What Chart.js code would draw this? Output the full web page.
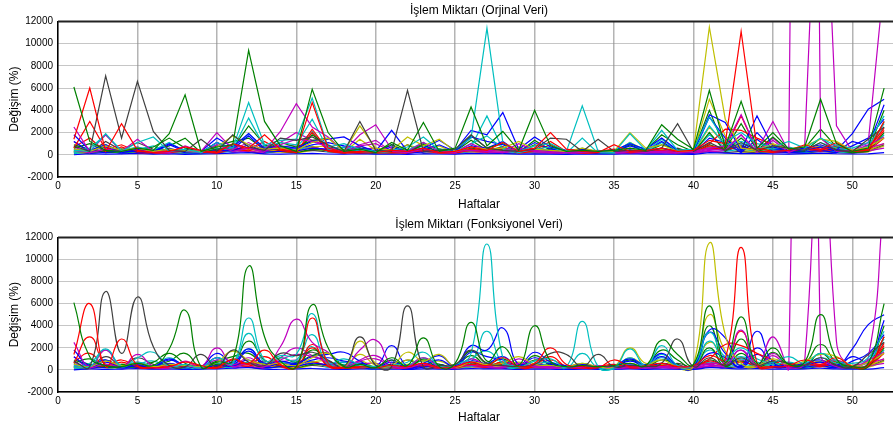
<!DOCTYPE html>
<html>
<head>
    <meta charset="utf-8">
    <title>İşlem Miktarı</title>
    <script src="https://cdn.jsdelivr.net/npm/chart.js"></script>
    <style>
        body {
            margin: 0;
            background: #fff;
            overflow: hidden;
            width: 893px;
            height: 425px;
        }
        .panel {
            width: 902px;
        }
    </style>
</head>
<body>
    <div class="panel"><canvas id="origChart" width="902" height="212"></canvas></div>
    <div class="panel"><canvas id="funcChart" width="902" height="213"></canvas></div>

    <script>
    // weeks 1..52
    const weeks = Array.from({ length: 52 }, (_, i) => i + 1);
    const xTicks = [0, 5, 10, 15, 20, 25, 30, 35, 40, 45, 50];
    const yTicks = [-2000, 0, 2000, 4000, 6000, 8000, 10000, 12000];

    // series (% change per week)
    const g1 = [6100,1200,400,300,600,400,1900,5400,300,700, 900,9400,3000,800,300,5900,2000,300,500,200,
                1100,400,2900,300,600,4300,800,2100,400,4000, 800,300,400,300,400,600,400,2700,1400,500,
                5800,700,4800,600,2000,500,700,5000,1000,300, 600,6000];
    const r1 = [1400,6000,300,2800,400,200,300,700,400,200, 1000,600,1800,500,300,4700,600,200,300,200,
                400,300,600,200,300,700,400,1100,300,600, 2000,500,300,200,900,300,400,600,300,400,
                1300,1000,11100,600,300,400,900,500,1100,300, 400,3000];
    const r2 = [600,3000,500,900,300,200,400,300,200,300, 900,500,1200,400,200,2300,400,300,200,300,
                300,200,400,300,200,500,300,700,200,400, 1200,300,200,300,500,200,300,400,200,300,
                1000,2300,2200,1500,900,300,600,400,800,300, 500,2400];
    const k1 = [800,300,7100,1500,6600,2100,400,300,1400,300, 1800,700,400,1500,1300,1600,900,300,3000,400,
                300,5800,300,400,500,1800,600,400,300,500, 1500,1400,300,1400,300,400,300,600,2800,300,
                1100,400,1100,400,800,600,400,1100,400,300, 1400,2500];
    const c1 = [400,300,1900,300,1100,1600,300,500,200,1100, 600,4700,900,1300,1400,5100,700,1000,500,300,
                400,700,1600,400,500,1500,11400,1100,300,800, 1000,300,4400,300,200,1900,400,2200,400,500,
                3400,1200,2000,1000,700,1200,600,1500,800,600, 1100,3500];
    const c2 = [300,600,1800,400,700,400,1100,300,200,900, 500,3300,700,1100,900,3200,500,700,300,200,
                300,400,1100,300,300,1000,1700,600,200,500, 700,200,600,200,200,1100,300,1400,300,300,
                2600,900,1200,700,500,700,400,1100,600,400, 800,2800];
    const m1 = [2500,300,1800,300,1400,300,200,800,300,2000, 500,1100,400,2100,4600,2500,1600,300,1800,2700,
                500,300,1100,300,200,1000,400,300,1000,400, 300,200,300,400,200,300,300,300,200,300,
                600,800,3600,400,3000,300,150000,1500,300,400, 1100,15700];
    const m2 = [400,200,500,300,600,200,300,400,200,900, 300,600,300,900,1400,1200,700,200,800,1000,
                300,200,500,200,300,400,300,200,600,300, 200,300,200,300,200,300,200,300,400,200,
                500,400,1800,300,1300,200,800,35000,2600,300, 900,1600];
    const y1 = [500,300,800,400,600,300,500,400,300,700, 1700,900,500,600,400,1100,1500,300,2600,600,
                400,1600,800,1400,300,700,500,600,1200,500, 400,300,600,300,300,2000,600,900,300,400,
                11500,3200,600,400,1000,500,800,1400,1200,400, 700,1500];
    const b1 = [1800,400,900,300,500,300,1000,400,300,1500, 700,1900,600,800,600,1200,1400,1600,800,300,
                2200,300,600,1300,400,2200,1800,3800,500,1600, 700,400,500,300,400,1000,500,1500,400,300,
                3600,2900,400,3500,700,400,600,900,400,1900, 4100,5000];
    const b2 = [1200,300,700,200,400,200,900,300,200,1100, 500,1700,400,600,500,900,1100,800,600,200,
                700,200,400,900,300,1600,1200,900,300,1100, 500,300,400,200,300,800,400,1200,300,200,
                3400,1500,300,2000,500,300,400,700,300,1200, 800,4500];
    const g2 = [600,1000,300,500,400,700,1500,600,300,800, 1200,1500,500,1100,700,1300,1500,400,600,300,
                900,300,1000,500,400,1700,600,1000,300,900, 600,300,400,300,300,900,400,1800,900,300,
                4000,500,2800,400,1600,400,600,2300,700,300, 400,4000];
    // lower-level series that make up the band near zero
    const bg1 = [0,100,50,80,120,60,90,40,70,100, 150,200,80,60,90,130,70,50,100,60,
                 80,40,90,70,60,120,90,100,50,80, 60,40,70,50,60,90,50,80,60,40,
                 200,150,100,120,80,60,100,150,90,70, 80,200];
    const bg2 = [200,400,300,500,350,250,300,450,400,350, 600,500,300,400,250,700,350,200,300,250,
                 300,250,350,300,200,400,350,450,300,350, 500,300,250,200,350,300,250,400,300,350,
                 600,500,700,400,300,350,500,450,400,300, 350,1500];
    const bg3 = [300,200,400,250,300,350,500,300,200,400, 450,600,350,300,200,500,400,250,350,200,
                 250,300,400,250,300,600,400,500,250,450, 350,200,300,250,200,400,300,600,350,200,
                 900,400,800,350,500,300,400,700,350,250, 300,2000];
    const bg4 = [100,250,350,150,300,250,200,150,100,300, 250,700,200,350,400,800,250,300,150,100,
                 200,150,300,200,150,300,600,350,150,250, 300,150,500,150,100,400,200,500,150,200,
                 700,300,500,300,200,350,200,400,250,200, 300,1800];
    const bg5 = [700,150,500,100,400,150,100,250,150,600, 200,350,150,700,900,700,400,150,500,600,
                 200,150,300,150,100,300,200,150,300,200, 150,100,150,200,100,150,150,200,100,150,
                 300,250,900,200,700,200,400,300,500,200, 350,600];
    const bg6 = [300,150,1200,400,1100,500,200,150,350,150, 400,250,150,350,300,400,250,150,600,200,
                 150,900,150,200,250,400,200,150,150,200, 400,350,150,350,150,200,150,200,600,150,
                 300,200,300,200,250,200,150,300,200,150, 350,900];
    const bg7 = [200,100,300,150,250,100,200,150,100,250, 500,300,200,250,150,400,450,100,800,200,
                 150,500,250,450,100,250,150,200,400,150, 150,100,200,100,100,600,200,300,100,150,
                 2500,900,200,150,300,200,250,400,400,150, 250,800];
    const bg8 = [500,300,200,400,250,150,600,200,150,400, 350,900,250,300,350,600,500,700,300,150,
                 900,150,250,500,200,800,600,1200,200,500, 300,200,250,150,200,450,250,600,200,150,
                 1500,1100,200,1400,300,200,250,400,200,800, 1500,3200];
    const bg9 = [900,500,200,250,300,400,800,1500,200,500, 600,2600,900,400,200,1800,800,200,300,150,
                 500,200,900,200,300,1300,400,700,200,1300, 400,200,250,200,200,400,250,900,500,200,
                 2000,300,1500,300,700,250,300,1500,400,200, 300,3000];
    const bg10 = [700,1500,250,700,200,150,200,350,250,150, 500,350,800,300,200,2000,300,150,200,150,
                  200,150,350,150,200,400,250,600,150,300, 900,300,150,150,450,200,250,350,200,250,
                  800,600,3500,350,200,250,500,300,600,200, 300,2200];
    const bg11 = [200,400,900,250,500,800,200,300,150,600, 350,1900,500,700,700,2100,400,500,300,150,
                  200,350,800,200,250,700,3500,500,150,400, 500,150,1500,150,100,900,200,1100,200,250,
                  1800,600,1000,500,350,600,300,700,400,300, 500,2500];
    const bg12 = [1200,200,900,200,700,200,150,400,200,1100, 300,600,200,1100,2000,1300,800,200,900,1300,
                  300,200,600,200,150,500,250,200,500,250, 200,150,200,250,150,200,200,200,150,200,
                  400,500,1800,250,1500,300,600,500,900,300, 600,1000];
    const bg13 = [300,200,500,250,400,200,300,250,200,400, 900,500,300,400,250,700,800,200,1400,400,
                  250,900,500,800,200,400,300,350,700,300, 250,200,400,200,200,1100,400,500,200,250,
                  5000,1700,400,250,600,300,500,800,700,250, 400,1000];

    const B = '#0000ff', G = '#008000', R = '#ff0000', C = '#00bfbf', M = '#bf00bf', Y = '#bfbf00', K = '#404040';

    const seriesList = [
        [g1, G], [r1, R], [k1, K], [c1, C], [y1, Y], [m1, M], [m2, M], [b1, B],
        [c2, C], [r2, R], [b2, B], [g2, G],
        [bg8, B], [bg9, G], [bg10, R], [bg11, C], [bg12, M], [bg13, Y],
        [bg1, B], [bg2, R], [bg3, G], [bg4, C], [bg5, M], [bg6, K], [bg7, Y]
    ];

    const fontFam = "'Liberation Sans', Arial, sans-serif";

    // MATLAB-style dark top edge of the axes box
    const topBorder = {
        id: 'topBorder',
        afterDraw(chart) {
            const a = chart.chartArea, ctx = chart.ctx;
            ctx.save();
            ctx.strokeStyle = '#222';
            ctx.lineWidth = 2;
            ctx.beginPath();
            ctx.moveTo(a.left, a.top);
            ctx.lineTo(a.right, a.top);
            ctx.stroke();
            ctx.restore();
        }
    };

    function makeChart(id, titleText, smooth, titlePad, xAxisH) {
        const datasets = seriesList.map(([vals, col]) => ({
            data: vals.map((v, i) => ({ x: weeks[i], y: v })),
            borderColor: col,
            borderWidth: 1.2,
            pointRadius: 0,
            tension: smooth ? 0.5 : 0,
            fill: false
        }));

        return new Chart(document.getElementById(id), {
            type: 'line',
            data: { datasets },
            plugins: [topBorder],
            options: {
                responsive: false,
                animation: false,
                events: [],
                layout: { padding: { left: 0, right: 2, top: 0, bottom: 0 } },
                elements: { line: { capBezierPoints: false } },
                plugins: {
                    legend: { display: false },
                    tooltip: { enabled: false },
                    title: {
                        display: true,
                        text: titleText,
                        fullSize: false,
                        color: '#000',
                        font: { family: fontFam, size: 12, weight: 'normal' },
                        padding: titlePad
                    }
                },
                scales: {
                    x: {
                        type: 'linear',
                        min: 0,
                        max: 53,
                        afterBuildTicks: s => { s.ticks = xTicks.map(v => ({ value: v })); },
                        afterFit: s => { s.height = xAxisH; },
                        ticks: { color: '#000', font: { family: fontFam, size: 10 }, padding: 3, maxRotation: 0,
                                 callback: v => String(v) },
                        grid: { color: '#b4b4b4', lineWidth: 1.5, drawTicks: false },
                        border: { color: '#000', width: 1.5 },
                        title: {
                            display: true,
                            text: 'Haftalar',
                            color: '#000',
                            font: { family: fontFam, size: 12 },
                            padding: { top: 1, bottom: 0 }
                        }
                    },
                    y: {
                        min: -2000,
                        max: 12000,
                        afterBuildTicks: s => { s.ticks = yTicks.map(v => ({ value: v })); },
                        afterFit: s => { s.width = 58; },
                        ticks: { color: '#000', font: { family: fontFam, size: 10 }, padding: 5,
                                 callback: v => String(v) },
                        grid: { color: '#8c8c8c', lineWidth: 1, drawTicks: false },
                        border: { color: '#000', width: 1.5, dash: [1, 1] },
                        title: {
                            display: true,
                            text: 'Değişim (%)',
                            color: '#000',
                            font: { family: fontFam, size: 12 },
                            padding: { top: 7, bottom: 0 }
                        }
                    }
                }
            }
        });
    }

    makeChart('origChart', 'İşlem Miktarı (Orjinal Veri)', false, { top: 3, bottom: 4 }, 35);
    makeChart('funcChart', 'İşlem Miktarı (Fonksiyonel Veri)', true, { top: 5, bottom: 6 }, 33);
    </script>
</body>
</html>
